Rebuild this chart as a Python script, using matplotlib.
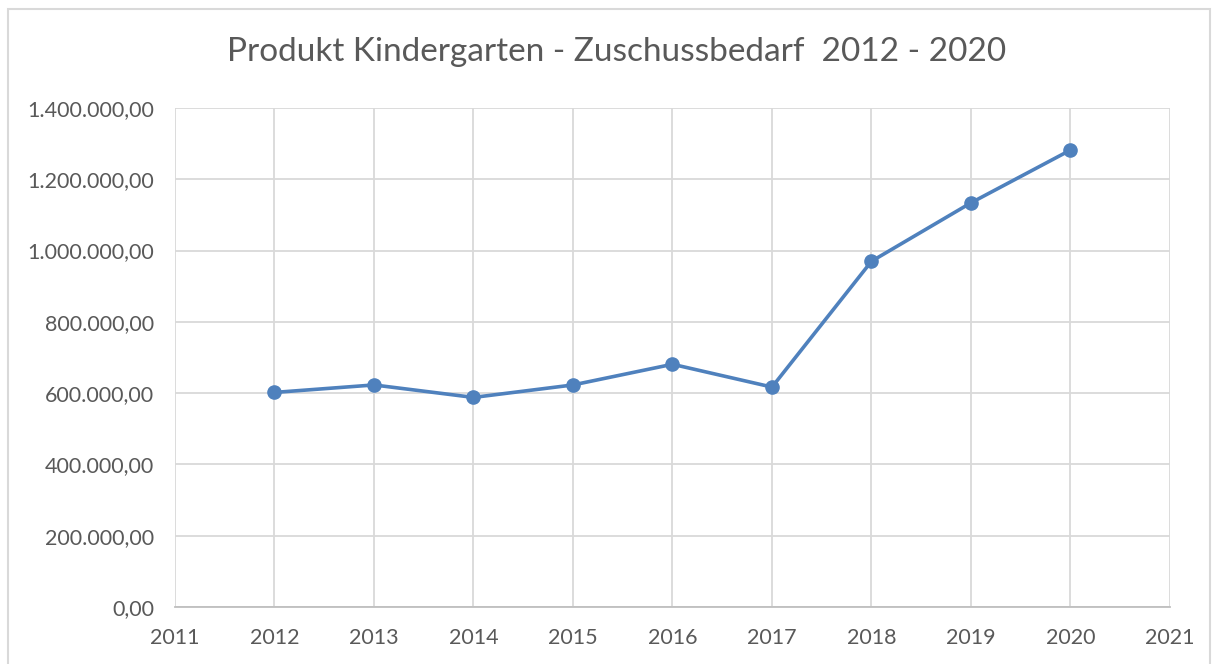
import matplotlib.pyplot as plt
from matplotlib.patches import Rectangle
from matplotlib.ticker import FuncFormatter

years = [2012, 2013, 2014, 2015, 2016, 2017, 2018, 2019, 2020]
zuschuss = [602000, 623000, 588000, 623000, 681000, 617000, 970000, 1134000, 1282000]
x_ticks = list(range(2011, 2022))
y_ticks = [0, 200000, 400000, 600000, 800000, 1000000, 1200000, 1400000]

plt.rcParams['font.family'] = ['Lato', 'DejaVu Sans']

def de_format(v, pos):
    s = f"{v:,.2f}"
    return s.replace(',', 'X').replace('.', ',').replace('X', '.')

fig = plt.figure(figsize=(12.19, 6.64), dpi=100)
fig.patches.append(Rectangle((8 / 1219, -0.01), 1202 / 1219, 1 - 9 / 664 + 0.01,
                             transform=fig.transFigure, fill=False,
                             edgecolor='#d9d9d9', linewidth=1.5))

ax = fig.add_axes([175 / 1219, 1 - 607 / 664, 995 / 1219, 499 / 664])
ax.plot(years, zuschuss, color='#4f81bd', linewidth=2.6, marker='o',
        markersize=9.5, zorder=3)

ax.set_xlim(2011, 2021)
ax.set_ylim(0, 1400000)
ax.set_xticks(x_ticks)
ax.set_yticks(y_ticks)
ax.yaxis.set_major_formatter(FuncFormatter(de_format))
ax.grid(True, color='#d9d9d9', linewidth=1.3)
ax.set_axisbelow(True)
for side in ['top', 'right', 'left']:
    ax.spines[side].set_visible(False)
ax.spines['bottom'].set_color('#bfbfbf')
ax.spines['bottom'].set_linewidth(1.3)
ax.tick_params(length=0, labelsize=15.5, labelcolor='#595959')
ax.tick_params(axis='y', pad=15)
ax.tick_params(axis='x', pad=15)

fig.text(617 / 1219, 1 - 52 / 664, 'Produkt Kindergarten - Zuschussbedarf  2012 - 2020',
         ha='center', va='center', fontsize=24, color='#595959')

fig.savefig('out.png', dpi=100)
